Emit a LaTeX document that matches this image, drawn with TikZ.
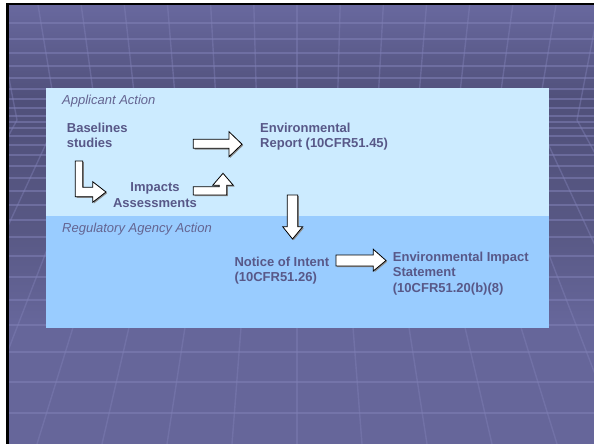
\documentclass[tikz,border=0pt]{standalone}
\usepackage{fontspec}
\setmainfont{Liberation Sans}
\definecolor{bgtop}{RGB}{104,104,158}
\definecolor{bgmid}{RGB}{80,80,122}
\definecolor{bglow}{RGB}{88,88,132}
\definecolor{bgbot}{RGB}{102,102,154}
\definecolor{gridc}{RGB}{128,128,182}
\definecolor{lightpanel}{RGB}{204,235,255}
\definecolor{darkpanel}{RGB}{153,204,255}
\definecolor{txt}{RGB}{88,88,136}
\definecolor{itxt}{RGB}{100,100,145}
\tikzset{
  gridline/.style={draw=gridc, line width=1.6pt, opacity=0.55},
  vgridline/.style={draw=gridc, line width=1.4pt, opacity=0.45},
  lbl/.style={font=\fontsize{13}{15.8}\selectfont\bfseries, text=txt, inner sep=0pt, align=left},
  ilbl/.style={font=\fontsize{13}{15.8}\selectfont\itshape, text=itxt, inner sep=0pt},
  blockarrow/.style={fill=white, draw=black, line width=0.8pt, line join=miter},
  arrowshadow/.style={fill=black!45, draw=none}
}
\begin{document}
\begin{tikzpicture}[x=1pt,y=-1pt]
\useasboundingbox (0,0) rectangle (594,444);
% frame
\fill[white] (0,0) rectangle (594,444);
\fill[black] (6,3) rectangle (594,444);
% background
\shade[top color=bgtop, bottom color=bgmid] (9,6) rectangle (594,100.5);
\shade[top color=bgmid, bottom color=bglow] (9,100) rectangle (594,230.5);
\shade[top color=bglow, bottom color=bgbot] (9,230) rectangle (594,320.5);
\fill[bgbot] (9,320) rectangle (594,444);
\begin{scope}
\clip (9,6) rectangle (594,444);
\foreach \y in {23,39,53,66,78,89,99,108,116,122,128,136,145,155,166,178,191,205,220,237,256,277,300,325,352,382,413}
  \draw[gridline] (9,\y) -- (594,\y);
\foreach \k in {-9,...,9}
  \draw[vgridline] ({297+43.3*\k},0) -- ({297+40*\k},120) -- ({297+65*\k},444);
\end{scope}
% panel
\fill[lightpanel] (46,88) rectangle (549,216);
\fill[darkpanel] (46,216) rectangle (549,328);
% labels (base anchor = baseline of the last line)
\node[ilbl, anchor=base west] (app) at (62,104.5) {Applicant Action};
\node[ilbl, anchor=base west] (reg) at (62,232) {Regulatory Agency Action};
\node[lbl, anchor=base west] (base) at (66.7,147.8) {Baselines\\studies};
\node[lbl, anchor=base west] (env) at (260,147.8) {Environmental\\Report (10CFR51.45)};
\node[lbl, anchor=base, align=center] (imp) at (155,207) {Impacts\\Assessments};
\node[lbl, anchor=base west] (noi) at (234.3,281.8) {Notice of Intent\\(10CFR51.26)};
\node[lbl, anchor=base west] (eis) at (392.7,292.6) {Environmental Impact\\Statement\\(10CFR51.20(b)(8)};
% block arrows: shadows
\begin{scope}[shift={(1.2,1.2)}]
\fill[arrowshadow] (193.3,139.3) -- (229,139.3) -- (229,131.7) -- (242,144.2) -- (229,156.7) -- (229,148.3) -- (193.3,148.3) -- cycle;
\fill[arrowshadow] (75.3,161) -- (82.7,161) -- (82.7,187.3) -- (92.7,187.3) -- (92.7,181.7) -- (106,192) -- (92.7,202.3) -- (92.7,196.7) -- (75.3,196.7) -- cycle;
\fill[arrowshadow] (193.3,186.7) -- (219.3,186.7) -- (219.3,185.3) -- (212.7,185.3) -- (223,173.3) -- (233.3,185.3) -- (226.7,185.3) -- (226.7,195) -- (193.3,195) -- cycle;
\fill[arrowshadow] (287.3,195) -- (297.7,195) -- (297.7,226.7) -- (302.7,226.7) -- (292.5,239) -- (282.7,226.7) -- (287.3,226.7) -- cycle;
\fill[arrowshadow] (336,255) -- (373.3,255) -- (373.3,249.3) -- (386,260.5) -- (373.3,271) -- (373.3,266) -- (336,266) -- cycle;
\end{scope}
% block arrows
\draw[blockarrow] (193.3,139.3) -- (229,139.3) -- (229,131.7) -- (242,144.2) -- (229,156.7) -- (229,148.3) -- (193.3,148.3) -- cycle;
\draw[blockarrow] (75.3,161) -- (82.7,161) -- (82.7,187.3) -- (92.7,187.3) -- (92.7,181.7) -- (106,192) -- (92.7,202.3) -- (92.7,196.7) -- (75.3,196.7) -- cycle;
\draw[blockarrow] (193.3,186.7) -- (219.3,186.7) -- (219.3,185.3) -- (212.7,185.3) -- (223,173.3) -- (233.3,185.3) -- (226.7,185.3) -- (226.7,195) -- (193.3,195) -- cycle;
\draw[blockarrow] (287.3,195) -- (297.7,195) -- (297.7,226.7) -- (302.7,226.7) -- (292.5,239) -- (282.7,226.7) -- (287.3,226.7) -- cycle;
\draw[blockarrow] (336,255) -- (373.3,255) -- (373.3,249.3) -- (386,260.5) -- (373.3,271) -- (373.3,266) -- (336,266) -- cycle;
\end{tikzpicture}
\end{document}
